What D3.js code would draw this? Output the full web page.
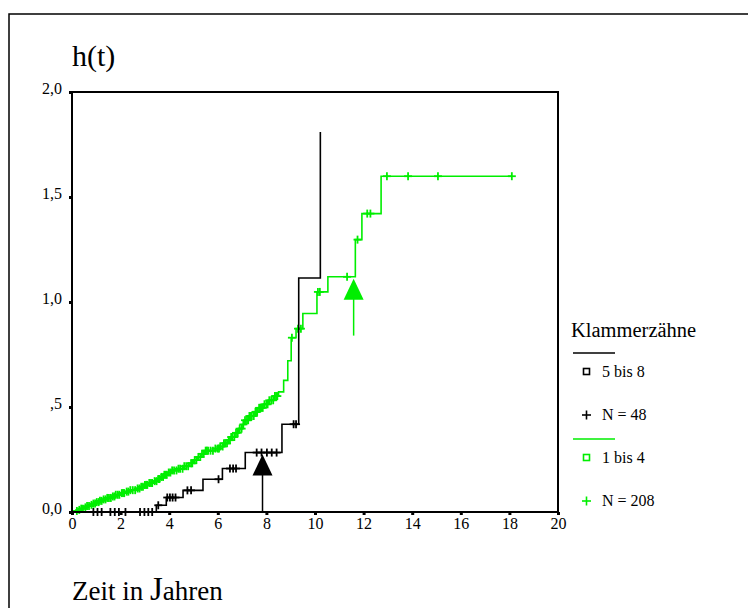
<!DOCTYPE html>
<meta charset="utf-8">
<style>
    body { margin: 0; background: #fff; }
    svg text { font-family: "Liberation Serif", "Times New Roman", serif; }
</style>
<body>
<script src="https://cdn.jsdelivr.net/npm/d3@7"></script>
<script>
    /* data: [t, h] at each event, censored times */
    var blackEvents = [[3.47, 0.032], [3.88, 0.069], [4.57, 0.103], [5.39, 0.156], [6.19, 0.207],
        [7.13, 0.283], [8.64, 0.418], [9.33, 1.114], [10.22, 1.81]];
    var blackCensored = [0.88, 1.05, 1.22, 1.58, 1.76, 1.93, 2.2, 2.8, 2.98, 3.14, 3.3, 3.55,
        3.92, 4.03, 4.14, 4.26, 4.75, 4.9, 6.03, 6.5, 6.63, 6.75, 7.6, 7.8, 8.02, 8.22, 8.42, 9.12, 9.22];
    var greenEvents = [[0.1, 0.005], [0.22, 0.01], [0.35, 0.016], [0.48, 0.022], [0.6, 0.028], [0.72, 0.034],
        [0.85, 0.04], [0.98, 0.047], [1.12, 0.053], [1.28, 0.06], [1.45, 0.067], [1.62, 0.074], [1.8, 0.082],
        [1.98, 0.09], [2.18, 0.097], [2.4, 0.104], [2.62, 0.112], [2.82, 0.12], [3.0, 0.129], [3.18, 0.138],
        [3.35, 0.147], [3.5, 0.157], [3.65, 0.167], [3.8, 0.177], [3.95, 0.188], [4.1, 0.198], [4.35, 0.206],
        [4.6, 0.218], [4.82, 0.232], [5.0, 0.247], [5.15, 0.262], [5.3, 0.277], [5.45, 0.292], [5.9, 0.302],
        [6.1, 0.312], [6.25, 0.327], [6.4, 0.342], [6.55, 0.357], [6.7, 0.377], [6.85, 0.397], [7.0, 0.417],
        [7.12, 0.437], [7.3, 0.457], [7.5, 0.477], [7.7, 0.496], [7.9, 0.513], [8.1, 0.532], [8.3, 0.552],
        [8.5, 0.572], [8.71, 0.627], [8.88, 0.72], [9.02, 0.83], [9.22, 0.873], [9.5, 0.945], [10.08, 1.048],
        [10.53, 1.12], [11.66, 1.297], [11.93, 1.421], [12.72, 1.599]];
    var greenCensored = [0.2, 0.3, 0.38, 0.45, 0.55, 0.62, 0.7, 0.8, 0.88, 0.95, 1.02, 1.1, 1.15, 1.22, 1.3,
        1.38, 1.45, 1.52, 1.6, 1.68, 1.75, 1.8, 1.88, 1.95, 2.05, 2.1, 2.15, 2.25, 2.32, 2.4, 2.5, 2.6, 2.7,
        2.78, 2.85, 2.92, 3.0, 3.05, 3.1, 3.18, 3.25, 3.3, 3.4, 3.48, 3.55, 3.6, 3.68, 3.75, 3.8, 3.85, 3.9,
        3.98, 4.05, 4.12, 4.2, 4.3, 4.38, 4.45, 4.55, 4.62, 4.7, 4.78, 4.9, 4.95, 5.05, 5.12, 5.2, 5.28,
        5.35, 5.42, 5.5, 5.55, 5.6, 5.7, 5.8, 5.9, 6.0, 6.05, 6.1, 6.2, 6.25, 6.3, 6.38, 6.45, 6.5, 6.55,
        6.6, 6.68, 6.75, 6.82, 6.9, 6.98, 7.05, 7.12, 7.2, 7.25, 7.3, 7.35, 7.4, 7.48, 7.55, 7.58, 7.62,
        7.7, 7.75, 7.8, 7.85, 7.92, 8.0, 8.05, 8.12, 8.2, 8.28, 8.35, 8.4, 8.45, 9.05, 9.3, 9.42, 10.12,
        10.2, 11.32, 11.75, 12.15, 12.28, 12.96, 13.83, 15.06, 18.1];
    /* median markers (triangles): time, and the level where its stem stops */
    var blackMedian = [7.84, 0.0];
    var greenMedian = [11.59, 0.84];

    var xTicks = [0, 2, 4, 6, 8, 10, 12, 14, 16, 18, 20];
    var yTicks = [0, 0.5, 1.0, 1.5, 2.0];
    var yTickLabels = ["0,0", ",5", "1,0", "1,5", "2,0"];
    var legendTitle = "Klammerzähne";
    var legendLabels = [["5 bis 8", "N = 48"], ["1 bis 4", "N = 208"]];

    var w = 748, h = 608;
    var padLeft = 72, padRight = 558, padTop = 92, padBottom = 512;
    var black = "#000000", green = "#00ee00";

    var svg = d3.select("body").append("svg")
        .attr("width", w)
        .attr("height", h);

    /* outer frame */
    svg.append("rect")
        .attr("x", 9).attr("y", 14)
        .attr("width", w).attr("height", h)
        .attr("fill", "none").attr("stroke", "#000").attr("stroke-width", 1.5);

    var xScale = d3.scaleLinear().domain([0, 20]).range([padLeft, padRight]);
    var yScale = d3.scaleLinear().domain([0, 2]).range([padBottom, padTop]);

    /* value of the step function at t */
    function stepAt(events, t) {
        var v = 0;
        events.forEach(function (e) { if (e[0] <= t) v = e[1]; });
        return v;
    }

    function stepPath(events, endT) {
        var pts = [[0, 0]];
        events.forEach(function (e) { pts.push([e[0], e[1]]); });
        if (endT > events[events.length - 1][0]) pts.push([endT, events[events.length - 1][1]]);
        var line = d3.line()
            .x(function (d) { return xScale(d[0]); })
            .y(function (d) { return yScale(d[1]); })
            .curve(d3.curveStepAfter);
        return line(pts);
    }

    function drawCurve(events, censored, color) {
        var endT = Math.max(d3.max(censored), events[events.length - 1][0]);
        svg.append("path")
            .attr("d", stepPath(events, endT))
            .attr("fill", "none")
            .attr("stroke", color)
            .attr("stroke-width", 1.6);

        var marks = svg.append("g");
        censored.forEach(function (t) {
            var cx = xScale(t), cy = yScale(stepAt(events, t));
            marks.append("line")
                .attr("x1", cx).attr("x2", cx).attr("y1", cy - 4).attr("y2", cy + 4)
                .attr("stroke", color).attr("stroke-width", 1.8);
            marks.append("line")
                .attr("x1", cx - 4).attr("x2", cx + 4).attr("y1", cy).attr("y2", cy)
                .attr("stroke", color).attr("stroke-width", 1.8);
        });
    }

    drawCurve(greenEvents, greenCensored, green);
    drawCurve(blackEvents, blackCensored, black);

    /* median arrows */
    function drawArrow(m, events, color) {
        var cx = xScale(m[0]);
        var apex = yScale(stepAt(events, m[0])) + 2;
        svg.append("line")
            .attr("x1", cx).attr("x2", cx)
            .attr("y1", apex + 20).attr("y2", yScale(m[1]))
            .attr("stroke", color).attr("stroke-width", 1.5);
        svg.append("path")
            .attr("d", "M" + cx + "," + apex + "L" + (cx + 10) + "," + (apex + 21) + "L" + (cx - 10) + "," + (apex + 21) + "Z")
            .attr("fill", color);
    }
    drawArrow(blackMedian, blackEvents, black);
    drawArrow(greenMedian, greenEvents, green);

    /* plot frame */
    svg.append("rect")
        .attr("x", padLeft).attr("y", padTop)
        .attr("width", padRight - padLeft).attr("height", padBottom - padTop)
        .attr("fill", "none").attr("stroke", "#000").attr("stroke-width", 2);

    /* axes */
    var xAxis = d3.axisBottom(xScale).tickValues(xTicks).tickSize(3).tickFormat(d3.format("d"));
    var gx = svg.append("g")
        .attr("transform", "translate(0," + padBottom + ")")
        .call(xAxis);
    var yAxis = d3.axisLeft(yScale).tickValues(yTicks).tickSize(3)
        .tickFormat(function (d, i) { return yTickLabels[i]; });
    var gy = svg.append("g")
        .attr("transform", "translate(" + padLeft + ",0)")
        .call(yAxis);
    [gx, gy].forEach(function (g) {
        g.select(".domain").remove();
        g.selectAll(".tick line").attr("stroke", "#000").attr("stroke-width", 3);
        g.selectAll("text").attr("font-size", 16).attr("fill", "#000")
            .style("font-family", "'Liberation Serif', serif");
    });
    gx.selectAll("text").attr("y", 5).attr("dy", "0.75em");
    gy.selectAll("text").attr("x", -10).attr("dy", "0.1em");

    /* titles */
    svg.append("text").attr("x", 72).attr("y", 66)
        .attr("font-size", 30).text("h(t)");
    var zt = svg.append("text").attr("x", 72).attr("y", 600).attr("font-size", 27);
    zt.append("tspan").text("Zeit in ");
    zt.append("tspan").attr("font-size", 33).text("J");
    zt.append("tspan").text("ahren");

    /* legend */
    var lg = svg.append("g").attr("transform", "translate(571,0)");
    lg.append("text").attr("x", 0).attr("y", 337).attr("font-size", 20.5).text(legendTitle);
    var rows = [{ color: black, y: 353 }, { color: green, y: 439 }];
    rows.forEach(function (r, i) {
        lg.append("line").attr("x1", 2).attr("x2", 44).attr("y1", r.y).attr("y2", r.y)
            .attr("stroke", r.color).attr("stroke-width", 1.5);
        lg.append("rect").attr("x", 12.5).attr("y", r.y + 15.5).attr("width", 6).attr("height", 6)
            .attr("fill", "none").attr("stroke", r.color).attr("stroke-width", 1.6);
        lg.append("text").attr("x", 31).attr("y", r.y + 24).attr("font-size", 16).text(legendLabels[i][0]);
        lg.append("line").attr("x1", 11).attr("x2", 20).attr("y1", r.y + 62).attr("y2", r.y + 62)
            .attr("stroke", r.color).attr("stroke-width", 1.6);
        lg.append("line").attr("x1", 15.5).attr("x2", 15.5).attr("y1", r.y + 57.5).attr("y2", r.y + 66.5)
            .attr("stroke", r.color).attr("stroke-width", 1.6);
        lg.append("text").attr("x", 31).attr("y", r.y + 67).attr("font-size", 16).text(legendLabels[i][1]);
    });
</script>
</body>
